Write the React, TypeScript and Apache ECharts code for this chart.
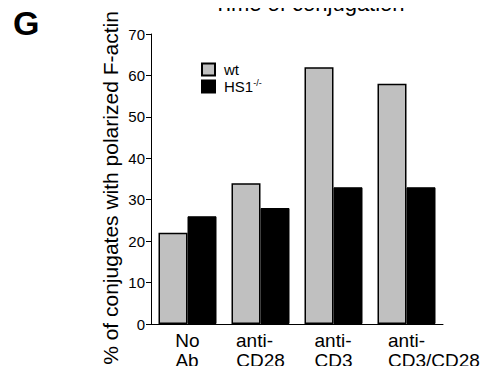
import React, { useEffect, useRef } from "react";
import * as echarts from "echarts";

const categories = ["No\nAb", "anti-\nCD28", "anti-\nCD3", "anti-\nCD3/CD28"];
const wtValues = [22, 34, 62, 58];
const hs1Values = [26, 28, 33, 33];
const yTicks = { min: 0, max: 70, interval: 10 };

const FONT = "'Liberation Sans', Arial, Helvetica, sans-serif";
const X_FONT = `19px ${FONT}`;

export default function App() {
  const ref = useRef<HTMLDivElement>(null);
  useEffect(() => {
    if (!ref.current) return;
    const chart = echarts.init(ref.current, null, { renderer: "svg" });
    const ctx = document.createElement("canvas").getContext("2d") as CanvasRenderingContext2D;
    ctx.font = X_FONT;
    const measure = (t: string) => ctx.measureText(t).width;
    const labelShift = [0, 0, 0, 55];
    const rich: any = {
      t: { fontSize: 19, lineHeight: 20, fontFamily: FONT, color: "#000" },
    };
    const spKey = (w: number) => {
      const k = "sp" + Math.round(w);
      if (!rich[k]) rich[k] = { width: Math.round(w), fontSize: 19, lineHeight: 20 };
      return k;
    };
    const labelTexts = categories.map((value, index) => {
      const lines = value.split("\n");
      const widths = lines.map(measure);
      const maxW = Math.max(...widths);
      return lines
        .map((l, j) => {
          let s = "";
          if (labelShift[index] > 0) s += `{${spKey(labelShift[index])}| }`;
          s += `{t|${l}}`;
          const trail = maxW - widths[j];
          if (trail > 1) s += `{${spKey(trail)}| }`;
          return s;
        })
        .join("\n");
    });
    chart.setOption({
      animation: false,
      backgroundColor: "#fff",
      grid: { left: 151, right: 45, top: 34, bottom: 50, containLabel: false },
      legend: {
        orient: "vertical",
        left: 201,
        top: 62,
        padding: 0,
        itemWidth: 13,
        itemHeight: 12,
        itemGap: 1,
        icon: "rect",
        data: ["wt", "HS1"],
        formatter: (name: string) => (name === "HS1" ? "{n|HS1}{sup|-/-}" : "{n|wt}"),
        textStyle: {
          fontFamily: FONT,
          fontSize: 15,
          color: "#000",
          padding: [0, 0, 0, 4],
          rich: {
            n: { fontSize: 15, fontFamily: FONT, color: "#000", lineHeight: 17 },
            sup: { fontSize: 9, fontFamily: FONT, color: "#000", verticalAlign: "top", lineHeight: 17, padding: [0, 0, 6, 0] },
          },
        },
      },
      xAxis: {
        type: "category",
        data: categories,
        axisLine: { lineStyle: { color: "#000", width: 1 } },
        axisTick: { inside: true, length: 4, lineStyle: { color: "#000" } },
        axisLabel: {
          margin: 6,
          interval: 0,
          formatter: (_value: string, index: number) => labelTexts[index],
          rich,
        },
      },
      yAxis: {
        type: "value",
        min: yTicks.min,
        max: yTicks.max,
        interval: yTicks.interval,
        splitLine: { show: false },
        axisLine: { show: true, lineStyle: { color: "#000", width: 1 } },
        axisTick: { show: true, length: 5, lineStyle: { color: "#000" } },
        axisLabel: { margin: 6, fontSize: 15, fontFamily: FONT, color: "#000" },
      },
      series: [
        {
          name: "wt",
          type: "bar",
          data: wtValues,
          barWidth: 29,
          barGap: "0%",
          itemStyle: { color: "#c0c0c0", borderColor: "#000", borderWidth: 1.5 },
        },
        {
          name: "HS1",
          type: "bar",
          data: hs1Values,
          barWidth: 29,
          barGap: "0%",
          itemStyle: { color: "#000", borderColor: "#000", borderWidth: 1 },
        },
      ],
      graphic: [
        {
          type: "text",
          x: 309,
          y: 14.5,
          style: { text: "Time of conjugation", font: `22px ${FONT}`, fill: "#000", align: "center", verticalAlign: "bottom" },
        },
        {
          type: "text",
          x: 13,
          y: 23,
          style: { text: "G", font: `bold 34px ${FONT}`, fill: "#000", align: "left", verticalAlign: "middle" },
        },
        {
          type: "text",
          x: 110,
          y: 188,
          rotation: Math.PI / 2,
          style: {
            text: "% of conjugates with polarized F-actin",
            font: `21px ${FONT}`,
            fill: "#000",
            align: "center",
            verticalAlign: "middle",
          },
        },
      ],
    });
    return () => chart.dispose();
  }, []);
  return <div ref={ref} style={{ width: 488, height: 374, margin: -8 }} />;
}
